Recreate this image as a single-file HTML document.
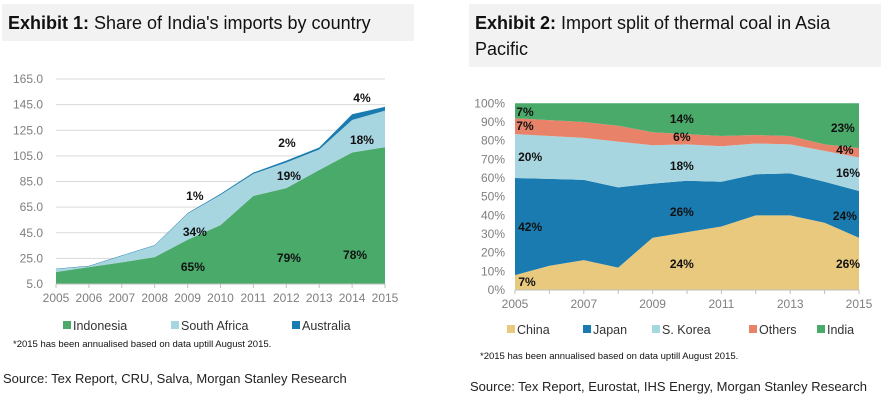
<!DOCTYPE html>
<html><head><meta charset="utf-8"><style>
body{margin:0;background:#fff;width:890px;height:401px;overflow:hidden;font-family:"Liberation Sans",sans-serif}
svg{display:block}
</style></head><body>
<svg id="s" width="890" height="401" xmlns="http://www.w3.org/2000/svg" font-family="Liberation Sans, sans-serif">
<rect x="2" y="4" width="412" height="37" fill="#f2f2f2"/>
<text x="8" y="29" font-size="18" fill="#111"><tspan font-weight="bold">Exhibit 1:</tspan> Share of India's imports by country</text>
<rect x="469" y="4" width="412" height="63" fill="#f2f2f2"/>
<text x="475" y="29" font-size="18" fill="#111"><tspan font-weight="bold">Exhibit 2:</tspan> Import split of thermal coal in Asia</text>
<text x="475" y="55" font-size="18" fill="#111">Pacific</text>
<g id="c1"></g>
<g id="c2"></g>
<g font-size="12.5" fill="#333">
<rect x="63" y="321" width="8" height="8" fill="#4aaa6a"/><text x="73" y="330">Indonesia</text>
<rect x="171" y="321" width="8" height="8" fill="#a8d6e0"/><text x="181" y="330">South Africa</text>
<rect x="292" y="321" width="8" height="8" fill="#1a7bb0"/><text x="302" y="330">Australia</text>
</g>
<text x="13" y="347" font-size="9.5" fill="#111">*2015 has been annualised based on data uptill August 2015.</text>
<text x="3" y="383" font-size="13" fill="#222">Source: Tex Report, CRU, Salva, Morgan Stanley Research</text>
<g font-size="12.5" fill="#333">
<rect x="507" y="325" width="8" height="8" fill="#e8c97e"/><text x="517" y="334">China</text>
<rect x="583" y="325" width="8" height="8" fill="#1a7bb0"/><text x="593" y="334">Japan</text>
<rect x="652" y="325" width="8" height="8" fill="#a8d6e0"/><text x="662" y="334">S. Korea</text>
<rect x="749" y="325" width="8" height="8" fill="#e8836a"/><text x="759" y="334">Others</text>
<rect x="817" y="325" width="8" height="8" fill="#4aaa6a"/><text x="827" y="334">India</text>
</g>
<text x="480" y="359" font-size="9.5" fill="#111">*2015 has been annualised based on data uptill August 2015.</text>
<text x="470" y="391" font-size="13" fill="#222">Source: Tex Report, Eurostat, IHS Energy, Morgan Stanley Research</text>
</svg>
<script>
const years1=[2005,2006,2007,2008,2009,2010,2011,2012,2013,2014,2015];
const indonesia=[14.4,18.2,21.9,26,39.5,51,73.8,79.8,94,107.6,111.8];
const southAfrica=[2.3,0.6,5.1,9,20.3,23.6,17.2,20,16,25.4,28.5];
const australia=[0.3,0.3,0.3,0.3,0.5,0.7,1,1.5,1.5,4.5,3];
const ticks1=[5,25,45,65,85,105,125,145,165];
const labels1Text=["4%","18%","2%","19%","1%","34%","65%","79%","78%"];
const labels1X=[9.3,9.3,7.02,7.08,4.22,4.22,4.16,7.08,9.09];
const labels1Y=[150.2,117.4,115,89.3,73.7,45.6,18.3,25.3,27.6];

const years2=[2005,2006,2007,2008,2009,2010,2011,2012,2013,2014,2015];
const china=[8,13,16,12,28,31,34,40,40,36,28];
const japan=[52,46.5,43,43,29,27.5,24,22,22.5,22,25];
const sKorea=[23.5,23,22.5,24.5,20.5,19.5,19,16.5,15.5,16.5,18];
const others=[8.5,8.5,8.5,8.5,7,5.5,5.5,4.5,4.5,3.5,5];
const india=[8,9,10,12,15.5,16.5,17.5,17,17.5,22,24];
const ticks2=[0,10,20,30,40,50,60,70,80,90,100];
const labels2Text=["7%","7%","20%","42%","7%","14%","6%","18%","26%","24%","23%","4%","16%","24%","26%"];
const labels2X=[0.29,0.29,0.44,0.44,0.35,4.85,4.85,4.85,4.85,4.85,9.53,9.59,9.68,9.59,9.68];
const labels2Y=[95.3,87.8,71.2,33.7,4.3,91.6,82,66.4,41.8,13.9,86.8,75,62.7,39.6,13.9];

const NS="http://www.w3.org/2000/svg";
function mk(p,tag,attrs){const e=document.createElementNS(NS,tag);for(const k in attrs)e.setAttribute(k,attrs[k]);p.appendChild(e);return e;}

function stackArea(g,xf,yf,n,base,top,color){
  let d="";
  for(let i=0;i<n;i++)d+=(i?"L":"M")+xf(i)+","+yf(top[i]);
  for(let i=n-1;i>=0;i--)d+="L"+xf(i)+","+yf(base[i]);
  return mk(g,"path",{d:d+"Z",fill:color});
}

// Chart 1
(function(){
  const g=document.getElementById('c1');
  const X0=56,X1=385,Y0=284,Y1=79;
  const x=i=>X0+i*(X1-X0)/(years1.length-1);
  const y=v=>Y0-(v-5)*(Y0-Y1)/160;
  ticks1.forEach(t=>{
    if(t>5){const l=mk(g,"line",{x1:X0,x2:X1,y1:y(t),y2:y(t),stroke:"#d9d9d9","stroke-width":1});
    
    }
    const tx=mk(g,"text",{x:43,y:y(t)+4,"text-anchor":"end","font-size":"12",fill:"#7f7f7f"});
    tx.textContent=t.toFixed(1);
    
    
  });
  const n=years1.length,zero=years1.map(()=>5);
  const c1=indonesia.map(v=>v),c2=c1.map((v,i)=>v+southAfrica[i]),c3=c2.map((v,i)=>v+australia[i]);
  let a=stackArea(g,x,y,n,zero,c1,"#4aaa6a");
  
  
  a=stackArea(g,x,y,n,c1,c2,"#a8d6e0");
  
  
  a=stackArea(g,x,y,n,c2,c3,"#1a7bb0");
  
  
  const ax=mk(g,"line",{x1:X0,x2:X1,y1:Y0,y2:Y0,stroke:"#bfbfbf"});
  
  
  years1.forEach((yr,i)=>{
    const tk=mk(g,"line",{x1:x(i),x2:x(i),y1:Y0,y2:Y0+4,stroke:"#bfbfbf"});
    
    
    const t=mk(g,"text",{x:x(i),y:Y0+18,"text-anchor":"middle","font-size":"12",fill:"#7f7f7f"});
    t.textContent=yr;
    
    
  });
  labels1Text.forEach((s,i)=>{
    const t=mk(g,"text",{x:x(labels1X[i]),y:y(labels1Y[i])+4,"text-anchor":"middle","font-size":"12","font-weight":"bold",fill:"#111"});
    t.textContent=s;
    
    
  });
})();

// Chart 2
(function(){
  const g=document.getElementById('c2');
  const X0=515,X1=859,Y0=290,Y1=103.3;
  const x=i=>X0+i*(X1-X0)/(years2.length-1);
  const y=v=>Y0-v*(Y0-Y1)/100;
  ticks2.forEach(t=>{
    const tx=mk(g,"text",{x:505,y:y(t)+4,"text-anchor":"end","font-size":"12",fill:"#7f7f7f"});
    tx.textContent=t+"%";
    
    
  });
  const n=years2.length;
  const s0=years2.map(()=>0);
  const s1=china.slice(),s2=s1.map((v,i)=>v+japan[i]),s3=s2.map((v,i)=>v+sKorea[i]),s4=s3.map((v,i)=>v+others[i]),s5=s4.map((v,i)=>v+india[i]);
  let a=stackArea(g,x,y,n,s0,s1,"#e8c97e");
  
  
  a=stackArea(g,x,y,n,s1,s2,"#1a7bb0");
  
  
  a=stackArea(g,x,y,n,s2,s3,"#a8d6e0");
  
  
  a=stackArea(g,x,y,n,s3,s4,"#e8836a");
  
  
  a=stackArea(g,x,y,n,s4,s5,"#4aaa6a");
  
  
  const ax=mk(g,"line",{x1:X0,x2:X1,y1:Y0,y2:Y0,stroke:"#bfbfbf"});
  
  
  years2.forEach((yr,i)=>{
    const tk=mk(g,"line",{x1:x(i),x2:x(i),y1:Y0,y2:Y0+4,stroke:"#bfbfbf"});
    
    
    if(i%2===0){
      const t=mk(g,"text",{x:x(i),y:Y0+18,"text-anchor":"middle","font-size":"12",fill:"#7f7f7f"});
      t.textContent=yr;
      
      
    }
  });
  labels2Text.forEach((s,i)=>{
    const t=mk(g,"text",{x:x(labels2X[i]),y:y(labels2Y[i])+4,"text-anchor":"middle","font-size":"12","font-weight":"bold",fill:"#111"});
    t.textContent=s;
    
    
  });
})();
</script>
</body></html>
